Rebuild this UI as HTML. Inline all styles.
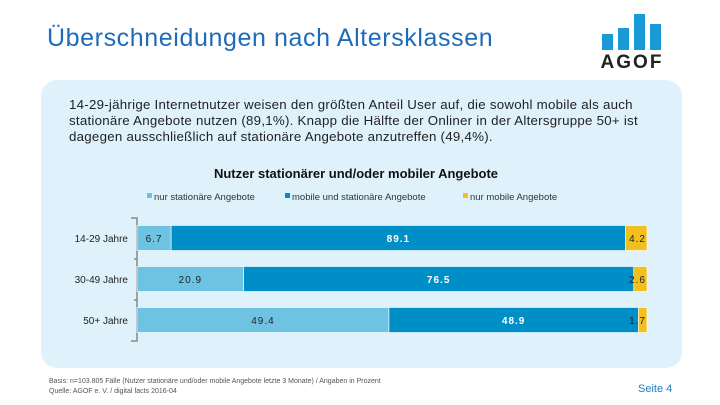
<!DOCTYPE html>
<html><head><meta charset="utf-8"><style>
body{margin:0;width:720px;height:405px;background:#fff;position:relative;overflow:hidden;font-family:"Liberation Sans","DejaVu Sans",sans-serif}
.abs{position:absolute}
</style></head><body>
<div class="abs" style="left:47px;top:24px;font-size:25px;letter-spacing:0.6px;color:#1e6bb8;">Überschneidungen nach Altersklassen</div>
<svg class="abs" style="left:598px;top:10px" width="70" height="60">
<rect x="4" y="24" width="11" height="16" fill="#1a9bd7"/><rect x="20" y="18" width="11" height="22" fill="#1a9bd7"/><rect x="36" y="4" width="11" height="36" fill="#1a9bd7"/><rect x="52" y="14" width="11" height="26" fill="#1a9bd7"/>
<text x="34" y="58" text-anchor="middle" font-size="19" font-weight="bold" fill="#222" font-family="Liberation Sans" letter-spacing="2">AGOF</text></svg>
<div class="abs" style="left:41px;top:80px;width:641px;height:288px;background:#dff2fc;border-radius:16px"></div>
<div class="abs" style="left:69px;top:97px;white-space:nowrap;font-size:13.3px;letter-spacing:0.25px;line-height:16px;color:#222">14-29-jährige Internetnutzer weisen den größten Anteil User auf, die sowohl mobile als auch<br>stationäre Angebote nutzen (89,1%). Knapp die Hälfte der Onliner in der Altersgruppe 50+ ist<br>dagegen ausschließlich auf stationäre Angebote anzutreffen (49,4%).</div>
<svg class="abs" id="chart" style="left:0;top:0" width="720" height="405"></svg>
<div class="abs" style="left:49px;top:377px;font-size:7px;line-height:10px;color:#555">Basis: n=103.805 Fälle (Nutzer stationäre und/oder mobile Angebote letzte 3 Monate) / Angaben in Prozent<br>Quelle: AGOF e. V. / digital facts 2016-04</div>
<div class="abs" style="left:638px;top:383px;font-size:11px;color:#1e7fb8">Seite 4</div>
<script>
const categories=["14-29 Jahre","30-49 Jahre","50+ Jahre"];
const seriesNames=["nur stationäre Angebote","mobile und stationäre Angebote","nur mobile Angebote"];
const stationaer=[6.7,20.9,49.4];
const beides=[89.1,76.5,48.9];
const mobil=[4.2,2.6,1.7];
const colors=["#6ec3e3","#008ec6","#f2bf1f"];
const textColors=["#222","#fff","#222"];
const svg=document.getElementById('chart');
const NS="http://www.w3.org/2000/svg";
const x0=137,x1=647,yTop=218,rowH=41,barH=25;
const xs=v=>x0+(x1-x0)*v/100;
const yc=i=>yTop+20+i*rowH;
function mk(t,a){const e=document.createElementNS(NS,t);for(const k in a)e.setAttribute(k,a[k]);svg.appendChild(e);return e;}
let t=mk('text',{x:356,y:178,'text-anchor':'middle','font-size':13,'font-weight':'bold',fill:'#111'});
t.textContent="Nutzer stationärer und/oder mobiler Angebote";


const lx=[147,285,463];
seriesNames.forEach((n,j)=>{
 const r=mk('rect',{x:lx[j],y:193,width:5,height:5,fill:colors[j]});
 
 
 const l=mk('text',{x:lx[j]+7,y:200,'font-size':9.5,fill:'#333'});l.textContent=n;
 
 
});
const ax=mk('path',{d:`M${x0-6} ${yTop}H${x0}V${yTop+3*rowH}H${x0-6}M${x0-3} ${yTop+rowH}H${x0}M${x0-3} ${yTop+2*rowH}H${x0}`,stroke:'#888',fill:'none','stroke-width':1.5});


const series=[stationaer,beides,mobil];
categories.forEach((c,i)=>{
 const y=yc(i);
 const lab=mk('text',{x:x0-9,y:y+4,'text-anchor':'end','font-size':10,fill:'#222'});lab.textContent=c;
 
 
 let acc=0;
 series.forEach((s,j)=>{
  const v=s[i];
  const r=mk('rect',{x:xs(acc),y:y-barH/2,width:xs(acc+v)-xs(acc),height:barH,fill:colors[j],stroke:'#fff','stroke-width':0.6});
  
  
  const vl=mk('text',{x:j==2?xs(acc+v)-1:(xs(acc)+xs(acc+v))/2,y:y+4,'text-anchor':j==2?'end':'middle','font-size':10,'font-weight':j==1?'bold':'normal',fill:textColors[j],'letter-spacing':1});
  vl.textContent=v.toFixed(1);
  
  
  acc+=v;
 });
});
</script>
</body></html>
